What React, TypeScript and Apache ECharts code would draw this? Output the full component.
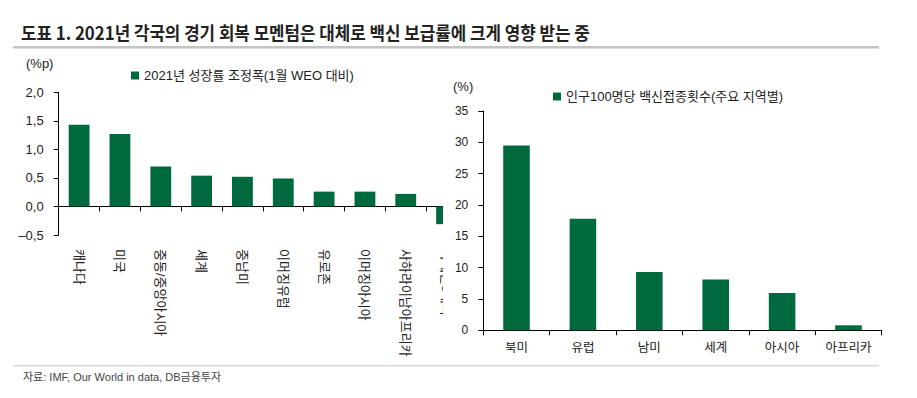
import React, { useEffect, useRef } from 'react';
import * as echarts from 'echarts';

const title = '도표 1. 2021년 각국의 경기 회복 모멘텀은 대체로 백신 보급률에 크게 영향 받는 중';
const source = '자료: IMF, Our World in data, DB금융투자';

const leftSeriesName = '2021년 성장률 조정폭(1월 WEO 대비)';
const leftUnit = '(%p)';
const leftCategories = ['캐나다', '미국', '중동/중앙아시아', '세계', '중남미', '이머징유럽', '유로존', '이머징아시아', '사하라이남아프리카', '아세안5개국'];
const leftValues = [1.43, 1.27, 0.7, 0.54, 0.52, 0.49, 0.26, 0.26, 0.22, -0.31];
const leftMin = -0.5;
const leftMax = 2;
const leftInterval = 0.5;

const rightSeriesName = '인구100명당 백신접종횟수(주요 지역별)';
const rightUnit = '(%)';
const rightCategories = ['북미', '유럽', '남미', '세계', '아시아', '아프리카'];
const rightValues = [29.5, 17.8, 9.3, 8.1, 5.95, 0.8];
const rightMin = 0;
const rightMax = 35;
const rightInterval = 5;

const FONT = "'Liberation Sans', 'Noto Sans CJK KR', sans-serif";
const GREEN = '#006a3f';
const TXT = '#222';

export default function App() {
  const ref = useRef<HTMLDivElement>(null);
  useEffect(() => {
    const chart = echarts.init(ref.current!, null, { renderer: 'svg' });
    chart.setOption({
      animation: false,
      backgroundColor: '#fff',
      textStyle: { fontFamily: FONT },
      legend: [
        {
          data: [leftSeriesName], left: 131, top: 69, padding: 0, itemWidth: 8, itemHeight: 8,
          icon: 'rect', selectedMode: false,
          textStyle: { fontSize: 13, color: TXT, fontFamily: FONT },
        },
        {
          data: [rightSeriesName], left: 553, top: 90, padding: 0, itemWidth: 8, itemHeight: 8,
          icon: 'rect', selectedMode: false,
          textStyle: { fontSize: 13, color: TXT, fontFamily: FONT },
        },
      ],
      grid: [
        { left: 58.7, top: 92.3, width: 408.3, height: 142.7 },
        { left: 483.3, top: 111, width: 398.4, height: 219.3 },
      ],
      xAxis: [
        {
          gridIndex: 0, type: 'category', data: leftCategories,
          axisLine: { onZero: true, lineStyle: { color: '#000', width: 1 } },
          axisTick: { show: true, length: 5, lineStyle: { color: '#000' } },
          axisLabel: { rotate: -90, margin: 14, fontSize: 13, color: TXT, interval: 0 },
        },
        {
          gridIndex: 1, type: 'category', data: rightCategories,
          axisLine: { lineStyle: { color: '#000', width: 1 } },
          axisTick: { show: true, length: 5, lineStyle: { color: '#000' } },
          axisLabel: { margin: 11, fontSize: 12.5, color: TXT, interval: 0 },
        },
      ],
      yAxis: [
        {
          gridIndex: 0, type: 'value', min: leftMin, max: leftMax, interval: leftInterval,
          axisLine: { show: true, lineStyle: { color: '#000', width: 1 } },
          axisTick: { show: true, length: 5, lineStyle: { color: '#000' } },
          splitLine: { show: false },
          axisLabel: {
            margin: 15, fontSize: 13, color: TXT,
            formatter: (v: number) => v.toFixed(1).replace('.', ',').replace('-', '–'),
          },
        },
        {
          gridIndex: 1, type: 'value', min: rightMin, max: rightMax, interval: rightInterval, z: 60,
          axisLine: { show: true, lineStyle: { color: '#000', width: 1 } },
          axisTick: { show: true, length: 5, lineStyle: { color: '#000' } },
          splitLine: { show: false },
          axisLabel: { margin: 15, fontSize: 12, color: TXT },
        },
      ],
      series: [
        {
          name: leftSeriesName, type: 'bar', xAxisIndex: 0, yAxisIndex: 0,
          data: leftValues, barWidth: '51%', itemStyle: { color: GREEN },
        },
        {
          name: rightSeriesName, type: 'bar', xAxisIndex: 1, yAxisIndex: 1,
          data: rightValues, barWidth: '40%', itemStyle: { color: GREEN },
        },
      ],
      graphic: {
        elements: [
          {
            type: 'text', x: 21, y: 32, z: 70, scaleX: 0.935,
            style: { text: title, fontSize: 18, fontWeight: 'bold', fontFamily: "'Noto Sans CJK KR', sans-serif", fill: '#222', verticalAlign: 'middle' },
          },
          { type: 'line', z: 70, shape: { x1: 13, y1: 47.3, x2: 879, y2: 47.3 }, style: { stroke: '#c4c4c4', lineWidth: 2.5 } },
          {
            type: 'text', x: 26, y: 63, z: 70,
            style: { text: leftUnit, fontSize: 13, fontFamily: FONT, fill: TXT, verticalAlign: 'middle' },
          },
          { type: 'rect', z: 50, shape: { x: 443, y: 55, width: 38.5, height: 300 }, style: { fill: '#fff' } },
          {
            type: 'text', x: 453, y: 86, z: 70,
            style: { text: rightUnit, fontSize: 13, fontFamily: FONT, fill: TXT, verticalAlign: 'middle' },
          },
          { type: 'line', z: 70, shape: { x1: 13, y1: 365.7, x2: 879, y2: 365.7 }, style: { stroke: '#d9d9d9', lineWidth: 1.5 } },
          {
            type: 'text', x: 23, y: 377, z: 70,
            style: { text: source, fontSize: 11, fontFamily: FONT, fill: '#444', verticalAlign: 'middle' },
          },
        ],
      },
    });
    return () => chart.dispose();
  }, []);
  return <div ref={ref} style={{ position: 'absolute', left: 0, top: 0, width: 917, height: 398, background: '#fff' }} />;
}
